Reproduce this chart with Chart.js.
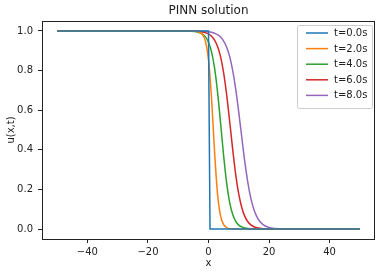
<!DOCTYPE html>
<html>
<head>
<meta charset="utf-8">
<script src="https://cdn.jsdelivr.net/npm/chart.js@4"></script>
<style>
  body { margin: 0; background: #fff; }
  canvas { display: block; }
</style>
</head>
<body>
<canvas id="pinnChart" width="382" height="273"></canvas>
<script>
// values
const seriesLabels = ["t=0.0s", "t=2.0s", "t=4.0s", "t=6.0s", "t=8.0s"];
const seriesColors = ["#1f77b4", "#ff7f0e", "#2ca02c", "#d62728", "#9467bd"];

const xStep = [-50, 0, 0.5, 50];
const uT0 = [1, 1, 0, 0];

const xGrid = [-50, -10, -6, -4, -2, -1, 0, 1, 2, 3, 4, 5, 6, 7, 8, 9, 10, 11, 12, 13, 14, 15, 16, 17, 18, 20, 22, 25, 50];
const uT2 = [1, 1, 1, 0.998, 0.982, 0.947, 0.855, 0.661, 0.391, 0.175, 0.065, 0.023, 0.008, 0.002, 0.001, 0, 0, 0, 0, 0, 0, 0, 0, 0, 0, 0, 0, 0, 0];
const uT4 = [1, 1, 0.999, 0.996, 0.984, 0.970, 0.943, 0.894, 0.813, 0.690, 0.533, 0.370, 0.232, 0.134, 0.074, 0.039, 0.020, 0.011, 0.006, 0.003, 0.002, 0.001, 0, 0, 0, 0, 0, 0, 0];
const uT6 = [1, 1, 1, 0.998, 0.995, 0.991, 0.985, 0.973, 0.954, 0.921, 0.869, 0.788, 0.677, 0.543, 0.401, 0.274, 0.176, 0.108, 0.064, 0.037, 0.021, 0.012, 0.007, 0.004, 0.002, 0.001, 0, 0, 0];
const uT8 = [1, 1, 1, 0.999, 0.998, 0.997, 0.996, 0.993, 0.988, 0.981, 0.969, 0.949, 0.918, 0.870, 0.800, 0.705, 0.589, 0.462, 0.339, 0.235, 0.155, 0.099, 0.062, 0.038, 0.023, 0.008, 0.003, 0.001, 0];

const xTickValues = [-40, -20, 0, 20, 40];
const yTickValues = [0, 0.2, 0.4, 0.6, 0.8, 1.0];

const FONT = "DejaVu Sans";
const INK = "#222";

function toPoints(xs, ys) {
    var pts = [];
    for (var i = 0; i < xs.length; i++) {
        pts.push({ x: xs[i], y: ys[i] });
    }
    return pts;
}

const seriesData = [
    toPoints(xStep, uT0),
    toPoints(xGrid, uT2),
    toPoints(xGrid, uT4),
    toPoints(xGrid, uT6),
    toPoints(xGrid, uT8)
];

var datasets = [];
for (var i = 0; i < seriesData.length; i++) {
    datasets.push({
        label: seriesLabels[i],
        data: seriesData[i],
        borderColor: seriesColors[i],
        backgroundColor: seriesColors[i],
        borderWidth: 1.5,
        pointRadius: 0,
        fill: false,
        tension: 0,
        cubicInterpolationMode: i === 0 ? "default" : "monotone"
    });
}

// frame, titles and the in-plot legend, matplotlib style
const decorations = {
    id: "decorations",
    afterDatasetsDraw(chart) {
        const ctx = chart.ctx;
        const a = chart.chartArea;
        ctx.save();

        ctx.strokeStyle = INK;
        ctx.lineWidth = 1;
        ctx.strokeRect(Math.round(a.left) + 0.5, Math.round(a.top) + 0.5,
            Math.round(a.right - a.left) - 1, Math.round(a.bottom - a.top));

        ctx.fillStyle = INK;
        ctx.textAlign = "center";
        ctx.textBaseline = "middle";
        ctx.font = "12px '" + FONT + "'";
        ctx.fillText("PINN solution", (a.left + a.right) / 2, 11);

        ctx.font = "10px '" + FONT + "'";
        ctx.fillText("x", (a.left + a.right) / 2, 263);

        ctx.save();
        ctx.translate(11, (a.top + a.bottom) / 2);
        ctx.rotate(-Math.PI / 2);
        ctx.fillText("u(x,t)", 0, 0);
        ctx.restore();

        // legend box
        const boxW = 75, boxH = 83;
        const bx = a.right - 3 - boxW;
        const by = a.top + 4;
        ctx.beginPath();
        ctx.roundRect(bx + 0.5, by + 0.5, boxW, boxH, 2);
        ctx.fillStyle = "rgba(255,255,255,0.8)";
        ctx.fill();
        ctx.strokeStyle = "#cccccc";
        ctx.lineWidth = 1;
        ctx.stroke();

        ctx.textAlign = "left";
        ctx.textBaseline = "middle";
        chart.data.datasets.forEach(function (ds, k) {
            const ly = by + 8 + k * 15.6;
            ctx.beginPath();
            ctx.moveTo(bx + 9, ly);
            ctx.lineTo(bx + 31, ly);
            ctx.strokeStyle = ds.borderColor;
            ctx.lineWidth = 1.5;
            ctx.stroke();
            ctx.fillStyle = INK;
            ctx.fillText(ds.label, bx + 37, ly + 0.5);
        });

        ctx.restore();
    }
};

new Chart(document.getElementById("pinnChart"), {
    type: "line",
    data: { datasets: datasets },
    options: {
        responsive: false,
        animation: false,
        devicePixelRatio: 1,
        layout: { padding: { top: 21, right: 7, left: 0, bottom: 0 } },
        plugins: {
            legend: { display: false },
            title: { display: false },
            tooltip: { enabled: false }
        },
        scales: {
            x: {
                type: "linear",
                min: -55,
                max: 55,
                afterBuildTicks: function (s) {
                    s.ticks = xTickValues.map(function (v) { return { value: v }; });
                },
                afterFit: function (s) { s.height = 34; },
                ticks: {
                    color: INK,
                    font: { family: FONT, size: 10 },
                    padding: 3,
                    maxRotation: 0,
                    callback: function (v) { return v < 0 ? "\u2212" + Math.abs(v) : String(v); }
                },
                grid: { drawOnChartArea: false, drawTicks: true, tickLength: 4, color: INK, lineWidth: 1 },
                border: { display: false }
            },
            y: {
                type: "linear",
                min: -0.05,
                max: 1.05,
                afterBuildTicks: function (s) {
                    s.ticks = yTickValues.map(function (v) { return { value: v }; });
                },
                afterFit: function (s) { s.width = 42; },
                ticks: {
                    color: INK,
                    font: { family: FONT, size: 10 },
                    padding: 5,
                    callback: function (v) { return v.toFixed(1); }
                },
                grid: { drawOnChartArea: false, drawTicks: true, tickLength: 4, color: INK, lineWidth: 1 },
                border: { display: false }
            }
        }
    },
    plugins: [decorations]
});
</script>
</body>
</html>
